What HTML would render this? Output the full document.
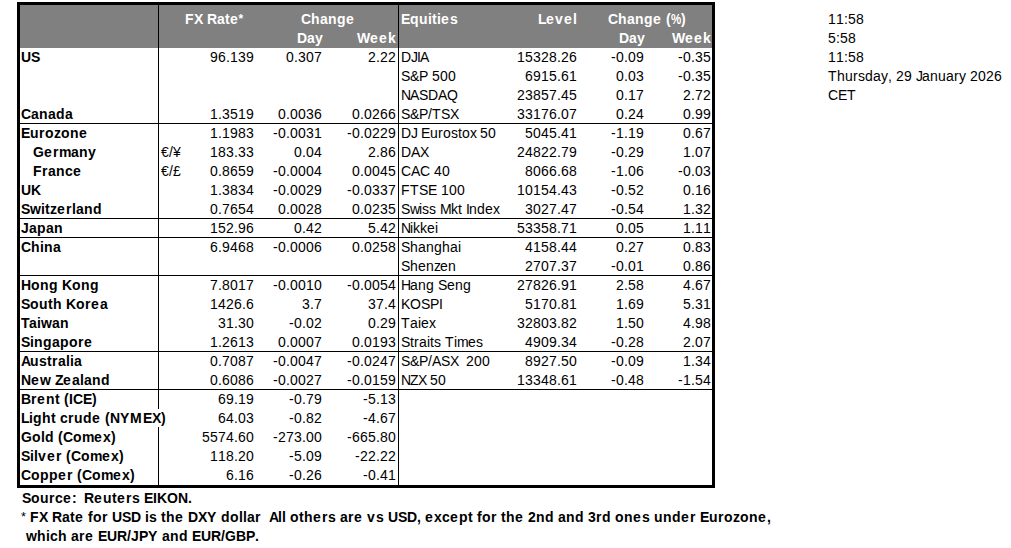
<!DOCTYPE html>
<html><head><meta charset="utf-8"><style>
html,body{margin:0;padding:0;background:#fff;width:1011px;height:548px;overflow:hidden;}
body{position:relative;font-family:"Liberation Sans",sans-serif;font-size:14px;color:#000;font-kerning:none;}
.t{position:absolute;white-space:pre;line-height:19px;height:19px;}
.b{position:absolute;background:#000;}
.g{position:absolute;background:#808080;}
i{display:inline-block;font-style:normal;}
.w1{width:1px}.w2{width:2px}.w3{width:3px}.w4{width:4px}.w5{width:5px}.w6{width:6px}.w7{width:7px}.w8{width:8px}.w9{width:9px}.w10{width:10px}.w11{width:11px}.w12{width:12px}.w13{width:13px}.w14{width:14px}.w15{width:15px}.w16{width:16px}.w17{width:17px}.w18{width:18px}.w19{width:19px}
</style></head><body>
<div class="g" style="left:20px;top:5px;width:692px;height:43px;"></div>
<div class="b" style="left:17px;top:2px;width:698px;height:3px;"></div>
<div class="b" style="left:17px;top:485px;width:698px;height:3px;"></div>
<div class="b" style="left:17px;top:2px;width:3px;height:486px;"></div>
<div class="b" style="left:712px;top:2px;width:3px;height:486px;"></div>
<div class="b" style="left:158px;top:5px;width:1px;height:404px;"></div>
<div class="b" style="left:158px;top:427px;width:1px;height:58px;"></div>
<div class="b" style="left:398px;top:5px;width:1px;height:480px;"></div>
<div class="b" style="left:20px;top:123px;width:692px;height:1px;"></div>
<div class="b" style="left:20px;top:218px;width:692px;height:1px;"></div>
<div class="b" style="left:20px;top:237px;width:692px;height:1px;"></div>
<div class="b" style="left:20px;top:275px;width:692px;height:1px;"></div>
<div class="b" style="left:20px;top:351px;width:692px;height:1px;"></div>
<div class="b" style="left:20px;top:389px;width:692px;height:1px;"></div>
<div class="t" style="left:185px;top:10px;font-weight:bold;color:#fff;"><i class="w9">F</i><i class="w9">X</i><i class="w4">&nbsp;</i><i class="w10">R</i><i class="w8">a</i><i class="w5">t</i><i class="w9">e</i><i class="w5" style="transform:translateX(-1px) scale(.85);transform-origin:50% 25%">*</i></div>
<div class="t" style="left:301px;top:10px;font-weight:bold;color:#fff;"><i class="w10">C</i><i class="w9">h</i><i class="w8">a</i><i class="w9">n</i><i class="w9">g</i><i class="w9">e</i></div>
<div class="t" style="left:297px;top:29px;font-weight:bold;color:#fff;"><i class="w10">D</i><i class="w8">a</i><i class="w7">y</i></div>
<div class="t" style="left:357px;top:29px;font-weight:bold;color:#fff;"><i class="w13">W</i><i class="w9">e</i><i class="w9">e</i><i class="w8">k</i></div>
<div class="t" style="left:401px;top:10px;font-weight:bold;color:#fff;"><i class="w9">E</i><i class="w9">q</i><i class="w9">u</i><i class="w4">i</i><i class="w5">t</i><i class="w4">i</i><i class="w9">e</i><i class="w8">s</i></div>
<div class="t" style="left:538px;top:10px;font-weight:bold;color:#fff;"><i class="w8">L</i><i class="w9">e</i><i class="w9">v</i><i class="w9">e</i><i class="w4">l</i></div>
<div class="t" style="left:608px;top:10px;font-weight:bold;color:#fff;"><i class="w10">C</i><i class="w9">h</i><i class="w8">a</i><i class="w9">n</i><i class="w9">g</i><i class="w9">e</i><i class="w4">&nbsp;</i><i class="w5">(</i><i class="w10" style="transform:scaleX(.82);transform-origin:0 0">%</i><i class="w5">)</i></div>
<div class="t" style="left:619px;top:29px;font-weight:bold;color:#fff;"><i class="w10">D</i><i class="w8">a</i><i class="w7">y</i></div>
<div class="t" style="left:672px;top:29px;font-weight:bold;color:#fff;"><i class="w13">W</i><i class="w9">e</i><i class="w9">e</i><i class="w8">k</i></div>
<div class="t" style="left:21px;top:48px;font-weight:bold;"><i class="w10">U</i><i class="w9">S</i></div>
<div class="t" style="left:210px;top:48px;"><i class="w8">9</i><i class="w8">6</i><i class="w4">.</i><i class="w8">1</i><i class="w8">3</i><i class="w8">9</i></div>
<div class="t" style="left:286px;top:48px;"><i class="w8">0</i><i class="w4">.</i><i class="w8">3</i><i class="w8">0</i><i class="w8">7</i></div>
<div class="t" style="left:368px;top:48px;"><i class="w8">2</i><i class="w4">.</i><i class="w8">2</i><i class="w8">2</i></div>
<div class="t" style="left:401px;top:48px;"><i class="w10">D</i><i class="w6">J</i><i class="w3">I</i><i class="w9">A</i></div>
<div class="t" style="left:517px;top:48px;"><i class="w8">1</i><i class="w8">5</i><i class="w8">3</i><i class="w8">2</i><i class="w8">8</i><i class="w4">.</i><i class="w8">2</i><i class="w8">6</i></div>
<div class="t" style="left:611px;top:48px;"><i class="w5">-</i><i class="w8">0</i><i class="w4">.</i><i class="w8">0</i><i class="w8">9</i></div>
<div class="t" style="left:678px;top:48px;"><i class="w5">-</i><i class="w8">0</i><i class="w4">.</i><i class="w8">3</i><i class="w8">5</i></div>
<div class="t" style="left:401px;top:67px;"><i class="w9">S</i><i class="w9">&amp;</i><i class="w9">P</i><i class="w4">&nbsp;</i><i class="w8">5</i><i class="w8">0</i><i class="w8">0</i></div>
<div class="t" style="left:525px;top:67px;"><i class="w8">6</i><i class="w8">9</i><i class="w8">1</i><i class="w8">5</i><i class="w4">.</i><i class="w8">6</i><i class="w8">1</i></div>
<div class="t" style="left:616px;top:67px;"><i class="w8">0</i><i class="w4">.</i><i class="w8">0</i><i class="w8">3</i></div>
<div class="t" style="left:678px;top:67px;"><i class="w5">-</i><i class="w8">0</i><i class="w4">.</i><i class="w8">3</i><i class="w8">5</i></div>
<div class="t" style="left:401px;top:86px;"><i class="w9">N</i><i class="w9">A</i><i class="w9">S</i><i class="w10">D</i><i class="w9">A</i><i class="w11">Q</i></div>
<div class="t" style="left:517px;top:86px;"><i class="w8">2</i><i class="w8">3</i><i class="w8">8</i><i class="w8">5</i><i class="w8">7</i><i class="w4">.</i><i class="w8">4</i><i class="w8">5</i></div>
<div class="t" style="left:616px;top:86px;"><i class="w8">0</i><i class="w4">.</i><i class="w8">1</i><i class="w8">7</i></div>
<div class="t" style="left:683px;top:86px;"><i class="w8">2</i><i class="w4">.</i><i class="w8">7</i><i class="w8">2</i></div>
<div class="t" style="left:21px;top:105px;font-weight:bold;"><i class="w10">C</i><i class="w8">a</i><i class="w9">n</i><i class="w8">a</i><i class="w9">d</i><i class="w8">a</i></div>
<div class="t" style="left:210px;top:105px;"><i class="w8">1</i><i class="w4">.</i><i class="w8">3</i><i class="w8">5</i><i class="w8">1</i><i class="w8">9</i></div>
<div class="t" style="left:278px;top:105px;"><i class="w8">0</i><i class="w4">.</i><i class="w8">0</i><i class="w8">0</i><i class="w8">3</i><i class="w8">6</i></div>
<div class="t" style="left:352px;top:105px;"><i class="w8">0</i><i class="w4">.</i><i class="w8">0</i><i class="w8">2</i><i class="w8">6</i><i class="w8">6</i></div>
<div class="t" style="left:401px;top:105px;"><i class="w9">S</i><i class="w9">&amp;</i><i class="w9">P</i><i class="w4">/</i><i class="w9">T</i><i class="w9">S</i><i class="w8">X</i></div>
<div class="t" style="left:517px;top:105px;"><i class="w8">3</i><i class="w8">3</i><i class="w8">1</i><i class="w8">7</i><i class="w8">6</i><i class="w4">.</i><i class="w8">0</i><i class="w8">7</i></div>
<div class="t" style="left:616px;top:105px;"><i class="w8">0</i><i class="w4">.</i><i class="w8">2</i><i class="w8">4</i></div>
<div class="t" style="left:683px;top:105px;"><i class="w8">0</i><i class="w4">.</i><i class="w8">9</i><i class="w8">9</i></div>
<div class="t" style="left:21px;top:124px;font-weight:bold;"><i class="w9">E</i><i class="w9">u</i><i class="w6">r</i><i class="w9">o</i><i class="w7">z</i><i class="w9">o</i><i class="w9">n</i><i class="w9">e</i></div>
<div class="t" style="left:210px;top:124px;"><i class="w8">1</i><i class="w4">.</i><i class="w8">1</i><i class="w8">9</i><i class="w8">8</i><i class="w8">3</i></div>
<div class="t" style="left:273px;top:124px;"><i class="w5">-</i><i class="w8">0</i><i class="w4">.</i><i class="w8">0</i><i class="w8">0</i><i class="w8">3</i><i class="w8">1</i></div>
<div class="t" style="left:347px;top:124px;"><i class="w5">-</i><i class="w8">0</i><i class="w4">.</i><i class="w8">0</i><i class="w8">2</i><i class="w8">2</i><i class="w8">9</i></div>
<div class="t" style="left:401px;top:124px;"><i class="w10">D</i><i class="w6">J</i><i class="w4">&nbsp;</i><i class="w9">E</i><i class="w8">u</i><i class="w5">r</i><i class="w8">o</i><i class="w7">s</i><i class="w4">t</i><i class="w8">o</i><i class="w6">x</i><i class="w4">&nbsp;</i><i class="w8">5</i><i class="w8">0</i></div>
<div class="t" style="left:525px;top:124px;"><i class="w8">5</i><i class="w8">0</i><i class="w8">4</i><i class="w8">5</i><i class="w4">.</i><i class="w8">4</i><i class="w8">1</i></div>
<div class="t" style="left:611px;top:124px;"><i class="w5">-</i><i class="w8">1</i><i class="w4">.</i><i class="w8">1</i><i class="w8">9</i></div>
<div class="t" style="left:683px;top:124px;"><i class="w8">0</i><i class="w4">.</i><i class="w8">6</i><i class="w8">7</i></div>
<div class="t" style="left:21px;top:143px;font-weight:bold;"><i class="w4">&nbsp;</i><i class="w4">&nbsp;</i><i class="w4">&nbsp;</i><i class="w11">G</i><i class="w9">e</i><i class="w6">r</i><i class="w12">m</i><i class="w8">a</i><i class="w9">n</i><i class="w7">y</i></div>
<div class="t" style="left:161px;top:143px;"><i class="w8">€</i><i class="w4">/</i><i class="w8">¥</i></div>
<div class="t" style="left:210px;top:143px;"><i class="w8">1</i><i class="w8">8</i><i class="w8">3</i><i class="w4">.</i><i class="w8">3</i><i class="w8">3</i></div>
<div class="t" style="left:294px;top:143px;"><i class="w8">0</i><i class="w4">.</i><i class="w8">0</i><i class="w8">4</i></div>
<div class="t" style="left:368px;top:143px;"><i class="w8">2</i><i class="w4">.</i><i class="w8">8</i><i class="w8">6</i></div>
<div class="t" style="left:401px;top:143px;"><i class="w10">D</i><i class="w9">A</i><i class="w8">X</i></div>
<div class="t" style="left:517px;top:143px;"><i class="w8">2</i><i class="w8">4</i><i class="w8">8</i><i class="w8">2</i><i class="w8">2</i><i class="w4">.</i><i class="w8">7</i><i class="w8">9</i></div>
<div class="t" style="left:611px;top:143px;"><i class="w5">-</i><i class="w8">0</i><i class="w4">.</i><i class="w8">2</i><i class="w8">9</i></div>
<div class="t" style="left:683px;top:143px;"><i class="w8">1</i><i class="w4">.</i><i class="w8">0</i><i class="w8">7</i></div>
<div class="t" style="left:21px;top:162px;font-weight:bold;"><i class="w4">&nbsp;</i><i class="w4">&nbsp;</i><i class="w4">&nbsp;</i><i class="w9">F</i><i class="w6">r</i><i class="w8">a</i><i class="w9">n</i><i class="w8">c</i><i class="w9">e</i></div>
<div class="t" style="left:161px;top:162px;"><i class="w8">€</i><i class="w4">/</i><i class="w8">£</i></div>
<div class="t" style="left:210px;top:162px;"><i class="w8">0</i><i class="w4">.</i><i class="w8">8</i><i class="w8">6</i><i class="w8">5</i><i class="w8">9</i></div>
<div class="t" style="left:273px;top:162px;"><i class="w5">-</i><i class="w8">0</i><i class="w4">.</i><i class="w8">0</i><i class="w8">0</i><i class="w8">0</i><i class="w8">4</i></div>
<div class="t" style="left:352px;top:162px;"><i class="w8">0</i><i class="w4">.</i><i class="w8">0</i><i class="w8">0</i><i class="w8">4</i><i class="w8">5</i></div>
<div class="t" style="left:401px;top:162px;"><i class="w10">C</i><i class="w9">A</i><i class="w10">C</i><i class="w4">&nbsp;</i><i class="w8">4</i><i class="w8">0</i></div>
<div class="t" style="left:525px;top:162px;"><i class="w8">8</i><i class="w8">0</i><i class="w8">6</i><i class="w8">6</i><i class="w4">.</i><i class="w8">6</i><i class="w8">8</i></div>
<div class="t" style="left:611px;top:162px;"><i class="w5">-</i><i class="w8">1</i><i class="w4">.</i><i class="w8">0</i><i class="w8">6</i></div>
<div class="t" style="left:678px;top:162px;"><i class="w5">-</i><i class="w8">0</i><i class="w4">.</i><i class="w8">0</i><i class="w8">3</i></div>
<div class="t" style="left:21px;top:181px;font-weight:bold;"><i class="w10">U</i><i class="w10">K</i></div>
<div class="t" style="left:210px;top:181px;"><i class="w8">1</i><i class="w4">.</i><i class="w8">3</i><i class="w8">8</i><i class="w8">3</i><i class="w8">4</i></div>
<div class="t" style="left:273px;top:181px;"><i class="w5">-</i><i class="w8">0</i><i class="w4">.</i><i class="w8">0</i><i class="w8">0</i><i class="w8">2</i><i class="w8">9</i></div>
<div class="t" style="left:347px;top:181px;"><i class="w5">-</i><i class="w8">0</i><i class="w4">.</i><i class="w8">0</i><i class="w8">3</i><i class="w8">3</i><i class="w8">7</i></div>
<div class="t" style="left:401px;top:181px;"><i class="w9">F</i><i class="w9">T</i><i class="w9">S</i><i class="w9">E</i><i class="w4">&nbsp;</i><i class="w8">1</i><i class="w8">0</i><i class="w8">0</i></div>
<div class="t" style="left:517px;top:181px;"><i class="w8">1</i><i class="w8">0</i><i class="w8">1</i><i class="w8">5</i><i class="w8">4</i><i class="w4">.</i><i class="w8">4</i><i class="w8">3</i></div>
<div class="t" style="left:611px;top:181px;"><i class="w5">-</i><i class="w8">0</i><i class="w4">.</i><i class="w8">5</i><i class="w8">2</i></div>
<div class="t" style="left:683px;top:181px;"><i class="w8">0</i><i class="w4">.</i><i class="w8">1</i><i class="w8">6</i></div>
<div class="t" style="left:21px;top:200px;font-weight:bold;"><i class="w9">S</i><i class="w11">w</i><i class="w4">i</i><i class="w5">t</i><i class="w7">z</i><i class="w9">e</i><i class="w6">r</i><i class="w4">l</i><i class="w8">a</i><i class="w9">n</i><i class="w9">d</i></div>
<div class="t" style="left:210px;top:200px;"><i class="w8">0</i><i class="w4">.</i><i class="w8">7</i><i class="w8">6</i><i class="w8">5</i><i class="w8">4</i></div>
<div class="t" style="left:278px;top:200px;"><i class="w8">0</i><i class="w4">.</i><i class="w8">0</i><i class="w8">0</i><i class="w8">2</i><i class="w8">8</i></div>
<div class="t" style="left:352px;top:200px;"><i class="w8">0</i><i class="w4">.</i><i class="w8">0</i><i class="w8">2</i><i class="w8">3</i><i class="w8">5</i></div>
<div class="t" style="left:401px;top:200px;"><i class="w9">S</i><i class="w9">w</i><i class="w3">i</i><i class="w7">s</i><i class="w7">s</i><i class="w4">&nbsp;</i><i class="w11">M</i><i class="w7">k</i><i class="w4">t</i><i class="w4">&nbsp;</i><i class="w3">I</i><i class="w8">n</i><i class="w8">d</i><i class="w8">e</i><i class="w6">x</i></div>
<div class="t" style="left:525px;top:200px;"><i class="w8">3</i><i class="w8">0</i><i class="w8">2</i><i class="w8">7</i><i class="w4">.</i><i class="w8">4</i><i class="w8">7</i></div>
<div class="t" style="left:611px;top:200px;"><i class="w5">-</i><i class="w8">0</i><i class="w4">.</i><i class="w8">5</i><i class="w8">4</i></div>
<div class="t" style="left:683px;top:200px;"><i class="w8">1</i><i class="w4">.</i><i class="w8">3</i><i class="w8">2</i></div>
<div class="t" style="left:21px;top:219px;font-weight:bold;"><i class="w8">J</i><i class="w8">a</i><i class="w9">p</i><i class="w8">a</i><i class="w9">n</i></div>
<div class="t" style="left:210px;top:219px;"><i class="w8">1</i><i class="w8">5</i><i class="w8">2</i><i class="w4">.</i><i class="w8">9</i><i class="w8">6</i></div>
<div class="t" style="left:294px;top:219px;"><i class="w8">0</i><i class="w4">.</i><i class="w8">4</i><i class="w8">2</i></div>
<div class="t" style="left:368px;top:219px;"><i class="w8">5</i><i class="w4">.</i><i class="w8">4</i><i class="w8">2</i></div>
<div class="t" style="left:401px;top:219px;"><i class="w9">N</i><i class="w3">i</i><i class="w7">k</i><i class="w7">k</i><i class="w8">e</i><i class="w3">i</i></div>
<div class="t" style="left:517px;top:219px;"><i class="w8">5</i><i class="w8">3</i><i class="w8">3</i><i class="w8">5</i><i class="w8">8</i><i class="w4">.</i><i class="w8">7</i><i class="w8">1</i></div>
<div class="t" style="left:616px;top:219px;"><i class="w8">0</i><i class="w4">.</i><i class="w8">0</i><i class="w8">5</i></div>
<div class="t" style="left:683px;top:219px;"><i class="w8">1</i><i class="w4">.</i><i class="w8">1</i><i class="w8">1</i></div>
<div class="t" style="left:21px;top:238px;font-weight:bold;"><i class="w10">C</i><i class="w9">h</i><i class="w4">i</i><i class="w9">n</i><i class="w8">a</i></div>
<div class="t" style="left:210px;top:238px;"><i class="w8">6</i><i class="w4">.</i><i class="w8">9</i><i class="w8">4</i><i class="w8">6</i><i class="w8">8</i></div>
<div class="t" style="left:273px;top:238px;"><i class="w5">-</i><i class="w8">0</i><i class="w4">.</i><i class="w8">0</i><i class="w8">0</i><i class="w8">0</i><i class="w8">6</i></div>
<div class="t" style="left:352px;top:238px;"><i class="w8">0</i><i class="w4">.</i><i class="w8">0</i><i class="w8">2</i><i class="w8">5</i><i class="w8">8</i></div>
<div class="t" style="left:401px;top:238px;"><i class="w9">S</i><i class="w8">h</i><i class="w8">a</i><i class="w8">n</i><i class="w8">g</i><i class="w8">h</i><i class="w8">a</i><i class="w3">i</i></div>
<div class="t" style="left:525px;top:238px;"><i class="w8">4</i><i class="w8">1</i><i class="w8">5</i><i class="w8">8</i><i class="w4">.</i><i class="w8">4</i><i class="w8">4</i></div>
<div class="t" style="left:616px;top:238px;"><i class="w8">0</i><i class="w4">.</i><i class="w8">2</i><i class="w8">7</i></div>
<div class="t" style="left:683px;top:238px;"><i class="w8">0</i><i class="w4">.</i><i class="w8">8</i><i class="w8">3</i></div>
<div class="t" style="left:401px;top:257px;"><i class="w9">S</i><i class="w8">h</i><i class="w8">e</i><i class="w8">n</i><i class="w6">z</i><i class="w8">e</i><i class="w8">n</i></div>
<div class="t" style="left:525px;top:257px;"><i class="w8">2</i><i class="w8">7</i><i class="w8">0</i><i class="w8">7</i><i class="w4">.</i><i class="w8">3</i><i class="w8">7</i></div>
<div class="t" style="left:611px;top:257px;"><i class="w5">-</i><i class="w8">0</i><i class="w4">.</i><i class="w8">0</i><i class="w8">1</i></div>
<div class="t" style="left:683px;top:257px;"><i class="w8">0</i><i class="w4">.</i><i class="w8">8</i><i class="w8">6</i></div>
<div class="t" style="left:21px;top:276px;font-weight:bold;"><i class="w10">H</i><i class="w9">o</i><i class="w9">n</i><i class="w9">g</i><i class="w4">&nbsp;</i><i class="w10">K</i><i class="w9">o</i><i class="w9">n</i><i class="w9">g</i></div>
<div class="t" style="left:210px;top:276px;"><i class="w8">7</i><i class="w4">.</i><i class="w8">8</i><i class="w8">0</i><i class="w8">1</i><i class="w8">7</i></div>
<div class="t" style="left:273px;top:276px;"><i class="w5">-</i><i class="w8">0</i><i class="w4">.</i><i class="w8">0</i><i class="w8">0</i><i class="w8">1</i><i class="w8">0</i></div>
<div class="t" style="left:347px;top:276px;"><i class="w5">-</i><i class="w8">0</i><i class="w4">.</i><i class="w8">0</i><i class="w8">0</i><i class="w8">5</i><i class="w8">4</i></div>
<div class="t" style="left:401px;top:276px;"><i class="w9">H</i><i class="w8">a</i><i class="w8">n</i><i class="w8">g</i><i class="w4">&nbsp;</i><i class="w9">S</i><i class="w8">e</i><i class="w8">n</i><i class="w8">g</i></div>
<div class="t" style="left:517px;top:276px;"><i class="w8">2</i><i class="w8">7</i><i class="w8">8</i><i class="w8">2</i><i class="w8">6</i><i class="w4">.</i><i class="w8">9</i><i class="w8">1</i></div>
<div class="t" style="left:616px;top:276px;"><i class="w8">2</i><i class="w4">.</i><i class="w8">5</i><i class="w8">8</i></div>
<div class="t" style="left:683px;top:276px;"><i class="w8">4</i><i class="w4">.</i><i class="w8">6</i><i class="w8">7</i></div>
<div class="t" style="left:21px;top:295px;font-weight:bold;"><i class="w9">S</i><i class="w9">o</i><i class="w9">u</i><i class="w5">t</i><i class="w9">h</i><i class="w4">&nbsp;</i><i class="w10">K</i><i class="w9">o</i><i class="w6">r</i><i class="w9">e</i><i class="w8">a</i></div>
<div class="t" style="left:210px;top:295px;"><i class="w8">1</i><i class="w8">4</i><i class="w8">2</i><i class="w8">6</i><i class="w4">.</i><i class="w8">6</i></div>
<div class="t" style="left:302px;top:295px;"><i class="w8">3</i><i class="w4">.</i><i class="w8">7</i></div>
<div class="t" style="left:368px;top:295px;"><i class="w8">3</i><i class="w8">7</i><i class="w4">.</i><i class="w8">4</i></div>
<div class="t" style="left:401px;top:295px;"><i class="w9">K</i><i class="w11">O</i><i class="w9">S</i><i class="w9">P</i><i class="w3">I</i></div>
<div class="t" style="left:525px;top:295px;"><i class="w8">5</i><i class="w8">1</i><i class="w8">7</i><i class="w8">0</i><i class="w4">.</i><i class="w8">8</i><i class="w8">1</i></div>
<div class="t" style="left:616px;top:295px;"><i class="w8">1</i><i class="w4">.</i><i class="w8">6</i><i class="w8">9</i></div>
<div class="t" style="left:683px;top:295px;"><i class="w8">5</i><i class="w4">.</i><i class="w8">3</i><i class="w8">1</i></div>
<div class="t" style="left:21px;top:314px;font-weight:bold;"><i class="w8">T</i><i class="w8">a</i><i class="w4">i</i><i class="w11">w</i><i class="w8">a</i><i class="w9">n</i></div>
<div class="t" style="left:218px;top:314px;"><i class="w8">3</i><i class="w8">1</i><i class="w4">.</i><i class="w8">3</i><i class="w8">0</i></div>
<div class="t" style="left:289px;top:314px;"><i class="w5">-</i><i class="w8">0</i><i class="w4">.</i><i class="w8">0</i><i class="w8">2</i></div>
<div class="t" style="left:368px;top:314px;"><i class="w8">0</i><i class="w4">.</i><i class="w8">2</i><i class="w8">9</i></div>
<div class="t" style="left:401px;top:314px;"><i class="w9">T</i><i class="w8">a</i><i class="w3">i</i><i class="w8">e</i><i class="w6">x</i></div>
<div class="t" style="left:517px;top:314px;"><i class="w8">3</i><i class="w8">2</i><i class="w8">8</i><i class="w8">0</i><i class="w8">3</i><i class="w4">.</i><i class="w8">8</i><i class="w8">2</i></div>
<div class="t" style="left:616px;top:314px;"><i class="w8">1</i><i class="w4">.</i><i class="w8">5</i><i class="w8">0</i></div>
<div class="t" style="left:683px;top:314px;"><i class="w8">4</i><i class="w4">.</i><i class="w8">9</i><i class="w8">8</i></div>
<div class="t" style="left:21px;top:333px;font-weight:bold;"><i class="w9">S</i><i class="w4">i</i><i class="w9">n</i><i class="w9">g</i><i class="w8">a</i><i class="w9">p</i><i class="w9">o</i><i class="w6">r</i><i class="w9">e</i></div>
<div class="t" style="left:210px;top:333px;"><i class="w8">1</i><i class="w4">.</i><i class="w8">2</i><i class="w8">6</i><i class="w8">1</i><i class="w8">3</i></div>
<div class="t" style="left:278px;top:333px;"><i class="w8">0</i><i class="w4">.</i><i class="w8">0</i><i class="w8">0</i><i class="w8">0</i><i class="w8">7</i></div>
<div class="t" style="left:352px;top:333px;"><i class="w8">0</i><i class="w4">.</i><i class="w8">0</i><i class="w8">1</i><i class="w8">9</i><i class="w8">3</i></div>
<div class="t" style="left:401px;top:333px;"><i class="w9">S</i><i class="w4">t</i><i class="w5">r</i><i class="w8">a</i><i class="w3">i</i><i class="w4">t</i><i class="w7">s</i><i class="w4">&nbsp;</i><i class="w9">T</i><i class="w3">i</i><i class="w11">m</i><i class="w8">e</i><i class="w7">s</i></div>
<div class="t" style="left:525px;top:333px;"><i class="w8">4</i><i class="w8">9</i><i class="w8">0</i><i class="w8">9</i><i class="w4">.</i><i class="w8">3</i><i class="w8">4</i></div>
<div class="t" style="left:611px;top:333px;"><i class="w5">-</i><i class="w8">0</i><i class="w4">.</i><i class="w8">2</i><i class="w8">8</i></div>
<div class="t" style="left:683px;top:333px;"><i class="w8">2</i><i class="w4">.</i><i class="w8">0</i><i class="w8">7</i></div>
<div class="t" style="left:21px;top:352px;font-weight:bold;"><i class="w9">A</i><i class="w9">u</i><i class="w8">s</i><i class="w5">t</i><i class="w6">r</i><i class="w8">a</i><i class="w4">l</i><i class="w4">i</i><i class="w8">a</i></div>
<div class="t" style="left:210px;top:352px;"><i class="w8">0</i><i class="w4">.</i><i class="w8">7</i><i class="w8">0</i><i class="w8">8</i><i class="w8">7</i></div>
<div class="t" style="left:273px;top:352px;"><i class="w5">-</i><i class="w8">0</i><i class="w4">.</i><i class="w8">0</i><i class="w8">0</i><i class="w8">4</i><i class="w8">7</i></div>
<div class="t" style="left:347px;top:352px;"><i class="w5">-</i><i class="w8">0</i><i class="w4">.</i><i class="w8">0</i><i class="w8">2</i><i class="w8">4</i><i class="w8">7</i></div>
<div class="t" style="left:401px;top:352px;"><i class="w9">S</i><i class="w9">&amp;</i><i class="w9">P</i><i class="w4">/</i><i class="w9">A</i><i class="w9">S</i><i class="w8">X</i><i class="w4">&nbsp;</i><i class="w4">&nbsp;</i><i class="w8">2</i><i class="w8">0</i><i class="w8">0</i></div>
<div class="t" style="left:525px;top:352px;"><i class="w8">8</i><i class="w8">9</i><i class="w8">2</i><i class="w8">7</i><i class="w4">.</i><i class="w8">5</i><i class="w8">0</i></div>
<div class="t" style="left:611px;top:352px;"><i class="w5">-</i><i class="w8">0</i><i class="w4">.</i><i class="w8">0</i><i class="w8">9</i></div>
<div class="t" style="left:683px;top:352px;"><i class="w8">1</i><i class="w4">.</i><i class="w8">3</i><i class="w8">4</i></div>
<div class="t" style="left:21px;top:371px;font-weight:bold;"><i class="w10">N</i><i class="w9">e</i><i class="w11">w</i><i class="w4">&nbsp;</i><i class="w8">Z</i><i class="w9">e</i><i class="w8">a</i><i class="w4">l</i><i class="w8">a</i><i class="w9">n</i><i class="w9">d</i></div>
<div class="t" style="left:210px;top:371px;"><i class="w8">0</i><i class="w4">.</i><i class="w8">6</i><i class="w8">0</i><i class="w8">8</i><i class="w8">6</i></div>
<div class="t" style="left:273px;top:371px;"><i class="w5">-</i><i class="w8">0</i><i class="w4">.</i><i class="w8">0</i><i class="w8">0</i><i class="w8">2</i><i class="w8">7</i></div>
<div class="t" style="left:347px;top:371px;"><i class="w5">-</i><i class="w8">0</i><i class="w4">.</i><i class="w8">0</i><i class="w8">1</i><i class="w8">5</i><i class="w8">9</i></div>
<div class="t" style="left:401px;top:371px;"><i class="w9">N</i><i class="w8">Z</i><i class="w8">X</i><i class="w4">&nbsp;</i><i class="w8">5</i><i class="w8">0</i></div>
<div class="t" style="left:517px;top:371px;"><i class="w8">1</i><i class="w8">3</i><i class="w8">3</i><i class="w8">4</i><i class="w8">8</i><i class="w4">.</i><i class="w8">6</i><i class="w8">1</i></div>
<div class="t" style="left:611px;top:371px;"><i class="w5">-</i><i class="w8">0</i><i class="w4">.</i><i class="w8">4</i><i class="w8">8</i></div>
<div class="t" style="left:678px;top:371px;"><i class="w5">-</i><i class="w8">1</i><i class="w4">.</i><i class="w8">5</i><i class="w8">4</i></div>
<div class="t" style="left:21px;top:390px;font-weight:bold;"><i class="w10">B</i><i class="w6">r</i><i class="w9">e</i><i class="w9">n</i><i class="w5">t</i><i class="w4">&nbsp;</i><i class="w5">(</i><i class="w4">I</i><i class="w10">C</i><i class="w9">E</i><i class="w5">)</i></div>
<div class="t" style="left:218px;top:390px;"><i class="w8">6</i><i class="w8">9</i><i class="w4">.</i><i class="w8">1</i><i class="w8">9</i></div>
<div class="t" style="left:289px;top:390px;"><i class="w5">-</i><i class="w8">0</i><i class="w4">.</i><i class="w8">7</i><i class="w8">9</i></div>
<div class="t" style="left:363px;top:390px;"><i class="w5">-</i><i class="w8">5</i><i class="w4">.</i><i class="w8">1</i><i class="w8">3</i></div>
<div class="t" style="left:21px;top:409px;font-weight:bold;"><i class="w8">L</i><i class="w4">i</i><i class="w9">g</i><i class="w9">h</i><i class="w5">t</i><i class="w4">&nbsp;</i><i class="w8">c</i><i class="w6">r</i><i class="w9">u</i><i class="w9">d</i><i class="w9">e</i><i class="w4">&nbsp;</i><i class="w5">(</i><i class="w10">N</i><i class="w10">Y</i><i class="w13">M</i><i class="w9">E</i><i class="w9">X</i><i class="w5">)</i></div>
<div class="t" style="left:218px;top:409px;"><i class="w8">6</i><i class="w8">4</i><i class="w4">.</i><i class="w8">0</i><i class="w8">3</i></div>
<div class="t" style="left:289px;top:409px;"><i class="w5">-</i><i class="w8">0</i><i class="w4">.</i><i class="w8">8</i><i class="w8">2</i></div>
<div class="t" style="left:363px;top:409px;"><i class="w5">-</i><i class="w8">4</i><i class="w4">.</i><i class="w8">6</i><i class="w8">7</i></div>
<div class="t" style="left:21px;top:428px;font-weight:bold;"><i class="w11">G</i><i class="w9">o</i><i class="w4">l</i><i class="w9">d</i><i class="w4">&nbsp;</i><i class="w5">(</i><i class="w10">C</i><i class="w9">o</i><i class="w12">m</i><i class="w9">e</i><i class="w8">x</i><i class="w5">)</i></div>
<div class="t" style="left:202px;top:428px;"><i class="w8">5</i><i class="w8">5</i><i class="w8">7</i><i class="w8">4</i><i class="w4">.</i><i class="w8">6</i><i class="w8">0</i></div>
<div class="t" style="left:273px;top:428px;"><i class="w5">-</i><i class="w8">2</i><i class="w8">7</i><i class="w8">3</i><i class="w4">.</i><i class="w8">0</i><i class="w8">0</i></div>
<div class="t" style="left:347px;top:428px;"><i class="w5">-</i><i class="w8">6</i><i class="w8">6</i><i class="w8">5</i><i class="w4">.</i><i class="w8">8</i><i class="w8">0</i></div>
<div class="t" style="left:21px;top:447px;font-weight:bold;"><i class="w9">S</i><i class="w4">i</i><i class="w4">l</i><i class="w9">v</i><i class="w9">e</i><i class="w6">r</i><i class="w4">&nbsp;</i><i class="w5">(</i><i class="w10">C</i><i class="w9">o</i><i class="w12">m</i><i class="w9">e</i><i class="w8">x</i><i class="w5">)</i></div>
<div class="t" style="left:210px;top:447px;"><i class="w8">1</i><i class="w8">1</i><i class="w8">8</i><i class="w4">.</i><i class="w8">2</i><i class="w8">0</i></div>
<div class="t" style="left:289px;top:447px;"><i class="w5">-</i><i class="w8">5</i><i class="w4">.</i><i class="w8">0</i><i class="w8">9</i></div>
<div class="t" style="left:355px;top:447px;"><i class="w5">-</i><i class="w8">2</i><i class="w8">2</i><i class="w4">.</i><i class="w8">2</i><i class="w8">2</i></div>
<div class="t" style="left:21px;top:466px;font-weight:bold;"><i class="w10">C</i><i class="w9">o</i><i class="w9">p</i><i class="w9">p</i><i class="w9">e</i><i class="w6">r</i><i class="w4">&nbsp;</i><i class="w5">(</i><i class="w10">C</i><i class="w9">o</i><i class="w12">m</i><i class="w9">e</i><i class="w8">x</i><i class="w5">)</i></div>
<div class="t" style="left:226px;top:466px;"><i class="w8">6</i><i class="w4">.</i><i class="w8">1</i><i class="w8">6</i></div>
<div class="t" style="left:289px;top:466px;"><i class="w5">-</i><i class="w8">0</i><i class="w4">.</i><i class="w8">2</i><i class="w8">6</i></div>
<div class="t" style="left:363px;top:466px;"><i class="w5">-</i><i class="w8">0</i><i class="w4">.</i><i class="w8">4</i><i class="w8">1</i></div>
<div class="t" style="left:828px;top:10px;"><i class="w8">1</i><i class="w8">1</i><i class="w4">:</i><i class="w8">5</i><i class="w8">8</i></div>
<div class="t" style="left:828px;top:29px;"><i class="w8">5</i><i class="w4">:</i><i class="w8">5</i><i class="w8">8</i></div>
<div class="t" style="left:828px;top:48px;"><i class="w8">1</i><i class="w8">1</i><i class="w4">:</i><i class="w8">5</i><i class="w8">8</i></div>
<div class="t" style="left:828px;top:67px;"><i class="w9">T</i><i class="w8">h</i><i class="w8">u</i><i class="w5">r</i><i class="w7">s</i><i class="w8">d</i><i class="w8">a</i><i class="w7">y</i><i class="w4">,</i><i class="w4">&nbsp;</i><i class="w8">2</i><i class="w8">9</i><i class="w4">&nbsp;</i><i class="w6">J</i><i class="w8">a</i><i class="w8">n</i><i class="w8">u</i><i class="w8">a</i><i class="w5">r</i><i class="w7">y</i><i class="w4">&nbsp;</i><i class="w8">2</i><i class="w8">0</i><i class="w8">2</i><i class="w8">6</i></div>
<div class="t" style="left:828px;top:86px;"><i class="w10">C</i><i class="w9">E</i><i class="w9">T</i></div>
<div class="t" style="left:22px;top:489px;font-weight:bold;"><i class="w9">S</i><i class="w9">o</i><i class="w9">u</i><i class="w6">r</i><i class="w8">c</i><i class="w9">e</i><i class="w4">:</i><i class="w4">&nbsp;</i><i class="w4">&nbsp;</i><i class="w10">R</i><i class="w9">e</i><i class="w9">u</i><i class="w5">t</i><i class="w9">e</i><i class="w6">r</i><i class="w8">s</i><i class="w4">&nbsp;</i><i class="w9">E</i><i class="w4">I</i><i class="w10">K</i><i class="w11">O</i><i class="w10">N</i><i class="w4">.</i></div>
<div class="t" style="left:21px;top:508px;font-weight:bold;"><i class="w5" style="font-weight:normal;transform:scale(.9);transform-origin:0 25%">*</i><i class="w4">&nbsp;</i><i class="w9">F</i><i class="w9">X</i><i class="w4">&nbsp;</i><i class="w10">R</i><i class="w8">a</i><i class="w5">t</i><i class="w9">e</i><i class="w4">&nbsp;</i><i class="w5">f</i><i class="w9">o</i><i class="w6">r</i><i class="w4">&nbsp;</i><i class="w10">U</i><i class="w9">S</i><i class="w10">D</i><i class="w4">&nbsp;</i><i class="w4">i</i><i class="w8">s</i><i class="w4">&nbsp;</i><i class="w5">t</i><i class="w9">h</i><i class="w9">e</i><i class="w4">&nbsp;</i><i class="w10">D</i><i class="w9">X</i><i class="w10">Y</i><i class="w4">&nbsp;</i><i class="w9">d</i><i class="w9">o</i><i class="w4">l</i><i class="w4">l</i><i class="w8">a</i><i class="w6">r</i><i class="w4">&nbsp;</i><i class="w4">&nbsp;</i><i class="w9">A</i><i class="w4">l</i><i class="w4">l</i><i class="w4">&nbsp;</i><i class="w9">o</i><i class="w5">t</i><i class="w9">h</i><i class="w9">e</i><i class="w6">r</i><i class="w8">s</i><i class="w4">&nbsp;</i><i class="w8">a</i><i class="w6">r</i><i class="w9">e</i><i class="w4">&nbsp;</i><i class="w9">v</i><i class="w8">s</i><i class="w4">&nbsp;</i><i class="w10">U</i><i class="w9">S</i><i class="w10">D</i><i class="w4">,</i><i class="w4">&nbsp;</i><i class="w9">e</i><i class="w8">x</i><i class="w8">c</i><i class="w9">e</i><i class="w9">p</i><i class="w5">t</i><i class="w4">&nbsp;</i><i class="w5">f</i><i class="w9">o</i><i class="w6">r</i><i class="w4">&nbsp;</i><i class="w5">t</i><i class="w9">h</i><i class="w9">e</i><i class="w4">&nbsp;</i><i class="w8">2</i><i class="w9">n</i><i class="w9">d</i><i class="w4">&nbsp;</i><i class="w8">a</i><i class="w9">n</i><i class="w9">d</i><i class="w4">&nbsp;</i><i class="w8">3</i><i class="w6">r</i><i class="w9">d</i><i class="w4">&nbsp;</i><i class="w9">o</i><i class="w9">n</i><i class="w9">e</i><i class="w8">s</i><i class="w4">&nbsp;</i><i class="w9">u</i><i class="w9">n</i><i class="w9">d</i><i class="w9">e</i><i class="w6">r</i><i class="w4">&nbsp;</i><i class="w9">E</i><i class="w9">u</i><i class="w6">r</i><i class="w9">o</i><i class="w7">z</i><i class="w9">o</i><i class="w9">n</i><i class="w9">e</i><i class="w4">,</i></div>
<div class="t" style="left:22px;top:527px;font-weight:bold;"><i class="w4">&nbsp;</i><i class="w11">w</i><i class="w9">h</i><i class="w4">i</i><i class="w8">c</i><i class="w9">h</i><i class="w4">&nbsp;</i><i class="w8">a</i><i class="w6">r</i><i class="w9">e</i><i class="w4">&nbsp;</i><i class="w9">E</i><i class="w10">U</i><i class="w10">R</i><i class="w4">/</i><i class="w8">J</i><i class="w9">P</i><i class="w10">Y</i><i class="w4">&nbsp;</i><i class="w8">a</i><i class="w9">n</i><i class="w9">d</i><i class="w4">&nbsp;</i><i class="w9">E</i><i class="w10">U</i><i class="w10">R</i><i class="w4">/</i><i class="w11">G</i><i class="w10">B</i><i class="w9">P</i><i class="w4">.</i></div>
</body></html>
